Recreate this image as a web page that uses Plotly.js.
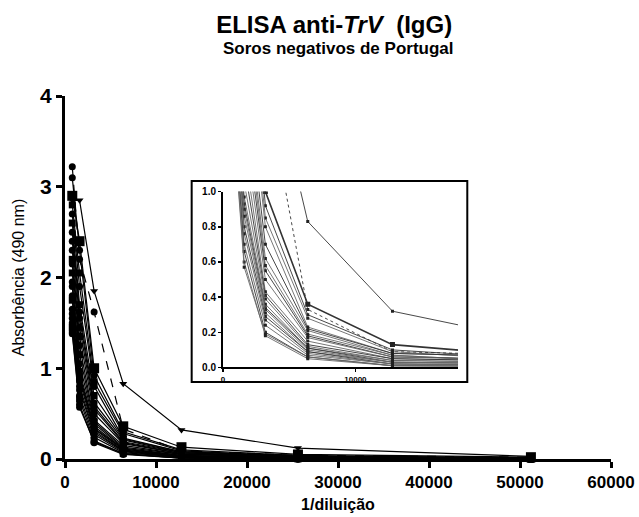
<!DOCTYPE html>
<html>
<head>
<meta charset="utf-8">
<script src="https://cdn.plot.ly/plotly-3.0.1.min.js"></script>
<style>html,body{margin:0;padding:0;background:#fff;}#chart{width:639px;height:517px;}</style>
</head>
<body>
<div id="chart"></div>
<script>
// 1/dilution values
const diluicao = [800, 1600, 3200, 6400, 12800, 25600, 51200];

// Absorbance (490 nm) per negative serum
const soro01 = [2.85, 2.85, 1.85, 0.83, 0.32, 0.12, 0.03];
const soro02 = [3.22, 2.20, 1.62, 0.33, 0.09, 0.04, 0.02];
const soro03 = [2.90, 2.40, 1.00, 0.36, 0.13, 0.05, 0.02];
const soro04 = [3.10, 2.30, 0.92, 0.30, 0.10, 0.04, 0.01];
const soro05 = [2.80, 2.05, 0.85, 0.28, 0.09, 0.03, 0.01];
const soro06 = [2.70, 1.90, 0.80, 0.23, 0.08, 0.03, 0.01];
const soro07 = [2.60, 1.70, 0.70, 0.22, 0.08, 0.03, 0.01];
const soro08 = [2.50, 1.62, 0.62, 0.21, 0.07, 0.02, 0.01];
const soro09 = [2.40, 1.55, 0.58, 0.19, 0.07, 0.02, 0.01];
const soro10 = [2.30, 1.45, 0.55, 0.18, 0.06, 0.02, 0.01];
const soro11 = [2.20, 1.35, 0.50, 0.17, 0.06, 0.02, 0.00];
const soro12 = [2.15, 1.25, 0.43, 0.15, 0.05, 0.02, 0.00];
const soro13 = [2.05, 1.15, 0.41, 0.13, 0.05, 0.02, 0.00];
const soro14 = [1.95, 1.05, 0.39, 0.12, 0.04, 0.01, 0.00];
const soro15 = [1.90, 0.97, 0.36, 0.11, 0.04, 0.01, 0.00];
const soro16 = [1.80, 0.93, 0.34, 0.11, 0.03, 0.01, 0.00];
const soro17 = [1.75, 0.90, 0.33, 0.10, 0.03, 0.01, 0.00];
const soro18 = [1.65, 0.86, 0.31, 0.09, 0.03, 0.01, 0.00];
const soro19 = [1.60, 0.80, 0.29, 0.09, 0.02, 0.01, 0.00];
const soro20 = [1.55, 0.76, 0.27, 0.08, 0.02, 0.01, 0.00];
const soro21 = [1.50, 0.70, 0.24, 0.07, 0.02, 0.00, 0.00];
const soro22 = [1.45, 0.66, 0.20, 0.06, 0.01, 0.00, 0.00];
const soro23 = [1.40, 0.60, 0.18, 0.05, 0.01, 0.00, 0.00];
const soro24 = [1.38, 0.57, 0.19, 0.06, 0.01, 0.00, 0.00];

const soros = [soro01, soro02, soro03, soro04, soro05, soro06, soro07, soro08,
  soro09, soro10, soro11, soro12, soro13, soro14, soro15, soro16, soro17, soro18,
  soro19, soro20, soro21, soro22, soro23, soro24];

// marker style per serum (style only)
const simbolos = ['triangle-down', 'circle', 'square', 'circle', 'square', 'circle', 'square', 'circle',
  'circle', 'circle', 'square', 'circle', 'square', 'circle', 'circle', 'circle', 'square', 'circle',
  'circle', 'circle', 'circle', 'square', 'circle', 'circle'];

const traces = [];
soros.forEach((vals, i) => {
  const sym = simbolos[i];
  const size = i === 2 ? 10 : (sym === 'square' ? 7 : 7);
  const dash = i === 1 ? 'dash' : 'solid';
  traces.push({
    type: 'scatter', mode: 'lines+markers', x: diluicao, y: vals,
    xaxis: 'x', yaxis: 'y', cliponaxis: false, showlegend: false,
    line: {color: '#000', width: 1.2, dash: dash},
    marker: {symbol: sym, size: size, color: '#000'}
  });
  traces.push({
    type: 'scatter', mode: 'lines+markers', x: diluicao, y: vals,
    xaxis: 'x2', yaxis: 'y2', showlegend: false,
    line: {color: i < 3 || i % 3 === 0 ? '#333' : '#666', width: i === 2 ? 1.6 : 0.9, dash: dash === 'dash' ? 'dot' : 'solid'},
    marker: {symbol: 'square', size: i === 2 ? 5 : 3, color: '#222'}
  });
});

const font = 'Liberation Sans, Arial, Helvetica, sans-serif';
const layout = {
  width: 639, height: 517,
  margin: {l: 65, r: 28, t: 96, b: 58},
  paper_bgcolor: '#fff', plot_bgcolor: 'rgba(0,0,0,0)',
  font: {family: font, color: '#000'},
  title: {
    text: '<b>ELISA anti-<i>TrV</i>  (IgG)</b>',
    font: {family: font, size: 24, color: '#000'},
    x: 0.523, xanchor: 'center', y: 0.953, yanchor: 'middle'
  },
  xaxis: {
    domain: [0, 1], range: [0, 60000], tickvals: [0, 10000, 20000, 30000, 40000, 50000, 60000],
    ticktext: ['0', '10000', '20000', '30000', '40000', '50000', '60000'],
    showline: true, linewidth: 3, linecolor: '#000', ticks: 'outside', ticklen: 6, tickwidth: 3,
    tickcolor: '#000', showgrid: false, zeroline: false,
    tickfont: {family: font, size: 17, weight: 'bold', color: '#000'},
    title: {text: '<b>1/diluição</b>', font: {family: font, size: 16, color: '#000'}, standoff: 8}
  },
  yaxis: {
    domain: [0, 1], range: [0, 4], tickvals: [0, 1, 2, 3, 4], ticktext: ['0', '1', '2', '3', '4'],
    showline: true, linewidth: 3, linecolor: '#000', ticks: 'outside', ticklen: 6, tickwidth: 3,
    tickcolor: '#000', showgrid: false, zeroline: false,
    tickfont: {family: font, size: 21, weight: 'bold', color: '#000'},
    title: {text: 'Absorbência (490 nm)', font: {family: font, size: 16, color: '#000'}, standoff: 12}
  },
  xaxis2: {
    domain: [0.2894, 0.7198], anchor: 'y2', range: [0, 17750], tickvals: [0, 10000], ticktext: ['0', '10000'],
    showline: true, linewidth: 2, linecolor: '#000', ticks: 'outside', ticklen: 3, tickwidth: 1.5,
    tickcolor: '#000', showgrid: false, zeroline: false,
    tickfont: {family: font, size: 8, weight: 'bold', color: '#000'}
  },
  yaxis2: {
    domain: [0.2521, 0.7366], anchor: 'x2', range: [0, 1], tickvals: [0, 0.2, 0.4, 0.6, 0.8, 1.0],
    ticktext: ['0.0', '0.2', '0.4', '0.6', '0.8', '1.0'],
    showline: true, linewidth: 2, linecolor: '#000', ticks: 'outside', ticklen: 3, tickwidth: 1.5,
    tickcolor: '#000', showgrid: false, zeroline: false,
    tickfont: {family: font, size: 10, weight: 'bold', color: '#000'}
  },
  shapes: [{
    type: 'rect', xref: 'paper', yref: 'paper', x0: 0.232, x1: 0.7368, y0: 0.212, y1: 0.766,
    line: {color: '#000', width: 2}, fillcolor: '#fff', layer: 'below'
  }],
  annotations: [{
    text: '<b>Soros negativos de Portugal</b>', xref: 'paper', yref: 'paper',
    x: 0.5, y: 1.132, xanchor: 'center', yanchor: 'middle', showarrow: false,
    font: {family: font, size: 17, color: '#000'}
  }]
};

Plotly.newPlot('chart', traces, layout, {displayModeBar: false, staticPlot: true});
</script>
</body>
</html>
